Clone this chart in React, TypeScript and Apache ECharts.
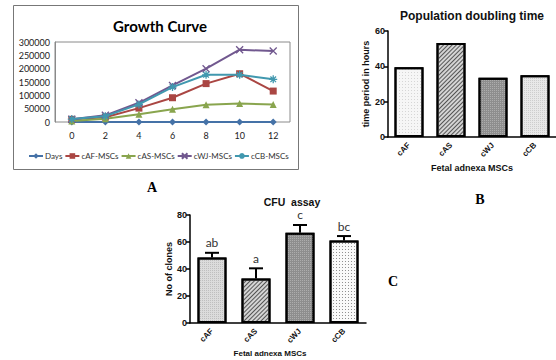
import React, { useEffect, useRef } from "react";
import * as echarts from "echarts";

// ---- Panel A: Growth curve ----
const growthDays = ["0", "2", "4", "6", "8", "10", "12"];
const daysSeries = [0, 2, 4, 6, 8, 10, 12];
const cAF = [10000, 18000, 52000, 91000, 144000, 181000, 116000];
const cAS = [4000, 12500, 29000, 47500, 65000, 69000, 66000];
const cWJ = [10000, 25000, 72000, 137000, 200000, 271000, 266000];
const cCB = [11000, 22000, 66000, 131000, 177000, 177000, 160000];
const growthNames = ["Days", "cAF-MSCs", "cAS-MSCs", "cWJ-MSCs", "cCB-MSCs"];

// ---- Panel B: Population doubling time ----
const pdCategories = ["cAF", "cAS", "cWJ", "cCB"];
const pdValues = [39.5, 53.2, 33.5, 35.0];

// ---- Panel C: CFU assay ----
const cfuCategories = ["cAF", "cAS", "cWJ", "cCB"];
const cfuValues = [48.5, 33, 66.8, 61.2];
const cfuErrors = [3.5, 7.5, 5.8, 3.2];
const cfuLetters = ["ab", "a", "c", "bc"];

const XPATH = "path://M0,0L10,10M10,0L0,10";
const STARPATH = "path://M5,0L5,10M0,5L10,5M1.5,1.5L8.5,8.5M8.5,1.5L1.5,8.5";

type Fill = { bg: string; decal: any };
const fills: Record<string, Fill> = {
  lightDots: { bg: "#f6f6f6", decal: { color: "#8a8a8a", symbol: "rect", symbolSize: 0.6, dashArrayX: [1, 2], dashArrayY: [1, 2] } },
  hatch: { bg: "#d4d4d4", decal: { color: "#555", symbol: "rect", dashArrayX: [1, 0], dashArrayY: [1, 2], rotation: -Math.PI / 4 } },
  dark: { bg: "#8e8e8e", decal: { color: "#e8e8e8", symbol: "rect", symbolSize: 0.7, dashArrayX: [1, 1], dashArrayY: [1, 1] } },
  lightGrid: { bg: "#e8e8e8", decal: { color: "#999", symbol: "rect", symbolSize: 0.7, dashArrayX: [1, 1], dashArrayY: [1, 1] } },
  cfuLight: { bg: "#dcdcdc", decal: { color: "#888", symbol: "rect", symbolSize: 0.7, dashArrayX: [1, 1], dashArrayY: [1, 1] } },
  whiteDots: { bg: "#fafafa", decal: { color: "#777", symbol: "rect", symbolSize: 0.8, dashArrayX: [1, 2], dashArrayY: [1, 2] } },
};

const pdFill = [fills.lightDots, fills.hatch, fills.dark, fills.lightGrid];
const cfuFill = [fills.cfuLight, fills.hatch, fills.dark, fills.whiteDots];

const gpAxisLabel = { fontFamily: "Liberation Sans, Arial", fontWeight: "bold" as const, fontSize: 9, color: "#111" };

export default function App() {
  const ref = useRef<HTMLDivElement>(null);
  useEffect(() => {
    if (!ref.current) return;
    const chart = echarts.init(ref.current, null, { renderer: "svg" });
    const exFont = "Lato, Open Sans, sans-serif";
    const colors = ["#4572A7", "#AA4643", "#89A54E", "#71588F", "#4198AF"];
    const lineData = [daysSeries, cAF, cAS, cWJ, cCB];
    const symbols = ["diamond", "rect", "triangle", XPATH, STARPATH];
    const symbolSizes = [7, 7, 7, 7, 8];

    const lineSeries = growthNames.map((n, i) => ({
      name: n,
      type: "line",
      xAxisIndex: 0,
      yAxisIndex: 0,
      data: lineData[i],
      symbol: symbols[i],
      symbolSize: symbolSizes[i],
      lineStyle: { color: colors[i], width: 2 },
      itemStyle: {
        color: colors[i],
        borderColor: colors[i],
        borderWidth: i >= 3 ? 1.3 : 0,
      },
      z: 3 + i,
    }));

    const option: any = {
      animation: false,
      backgroundColor: "#fff",
      title: [
        { text: "Growth Curve", left: 155, top: 13, textAlign: "center", textStyle: { fontFamily: exFont, fontWeight: "bold", fontSize: 15, color: "#000" } },
        { text: "Population doubling time", left: 467, top: 5, textAlign: "center", textStyle: { fontFamily: "Liberation Sans, Arial", fontWeight: "bold", fontSize: 12, color: "#111" } },
        { text: "CFU  assay", left: 287, top: 191, textAlign: "center", textStyle: { fontFamily: "Liberation Sans, Arial", fontWeight: "bold", fontSize: 10.5, color: "#111" } },
      ],
      legend: {
        data: growthNames,
        left: 28,
        top: 152,
        orient: "horizontal",
        itemWidth: 14,
        itemHeight: 7,
        itemGap: 2,
        textStyle: { fontFamily: exFont, fontSize: 8, color: "#333", padding: [0, 0, 0, -3] },
        padding: 0,
      },
      grid: [
        { left: 55, top: 42, width: 235, height: 80, show: true, borderColor: "#8a8a8a", borderWidth: 1, backgroundColor: "transparent" },
        { left: 388, top: 31, width: 174, height: 106 },
        { left: 190, top: 215, width: 176, height: 108 },
      ],
      xAxis: [
        {
          gridIndex: 0, type: "category", data: growthDays, boundaryGap: true,
          axisLine: { show: false }, axisTick: { show: false },
          axisLabel: { fontFamily: exFont, fontSize: 9, color: "#222", margin: 9 },
        },
        {
          gridIndex: 1, type: "category", data: pdCategories,
          axisLine: { lineStyle: { color: "#000", width: 1.5 } },
          axisTick: { alignWithLabel: true, length: 4, lineStyle: { color: "#000", width: 1.5 } },
          axisLabel: { ...gpAxisLabel, fontSize: 8, rotate: 45, margin: 7 },
          name: "Fetal adnexa MSCs", nameLocation: "middle", nameGap: 26,
          nameTextStyle: { ...gpAxisLabel, fontSize: 9 },
        },
        {
          gridIndex: 2, type: "category", data: cfuCategories,
          axisLine: { lineStyle: { color: "#000", width: 1.5 } },
          axisTick: { alignWithLabel: true, length: 4, lineStyle: { color: "#000", width: 1.5 } },
          axisLabel: { ...gpAxisLabel, fontSize: 8, rotate: 45, margin: 7 },
          name: "Fetal adnexa MSCs", nameLocation: "middle", nameGap: 26,
          nameTextStyle: { ...gpAxisLabel, fontSize: 8, padding: [0, 16, 0, 0] },
        },
      ],
      yAxis: [
        {
          gridIndex: 0, type: "value", min: 0, max: 300000, interval: 50000,
          axisLine: { show: true, lineStyle: { color: "#8a8a8a" } },
          axisTick: { show: false }, splitLine: { show: false },
          axisLabel: { fontFamily: exFont, fontSize: 9, color: "#222", margin: 5, formatter: (v: number) => String(v) },
        },
        {
          gridIndex: 1, type: "value", min: 0, max: 60, interval: 20,
          axisLine: { show: true, lineStyle: { color: "#000", width: 1.5 } },
          axisTick: { show: true, length: 4, lineStyle: { color: "#000", width: 1.5 } },
          splitLine: { show: false },
          axisLabel: { ...gpAxisLabel, margin: 3 },
          name: "time period in hours", nameLocation: "middle", nameGap: 18,
          nameTextStyle: { ...gpAxisLabel, fontSize: 9 },
        },
        {
          gridIndex: 2, type: "value", min: 0, max: 80, interval: 20,
          axisLine: { show: true, lineStyle: { color: "#000", width: 1.5 } },
          axisTick: { show: true, length: 4, lineStyle: { color: "#000", width: 1.5 } },
          splitLine: { show: false },
          axisLabel: { ...gpAxisLabel, margin: 3 },
          name: "No of clones", nameLocation: "middle", nameGap: 16,
          nameTextStyle: { ...gpAxisLabel, fontSize: 9 },
        },
      ],
      series: [
        ...lineSeries,
        {
          type: "bar", xAxisIndex: 1, yAxisIndex: 1, barWidth: 29,
          data: pdValues.map((v, i) => ({ value: v, itemStyle: { color: pdFill[i].bg, decal: pdFill[i].decal } })),
          itemStyle: { borderColor: "#000", borderWidth: 2 },
        },
        {
          type: "bar", xAxisIndex: 2, yAxisIndex: 2, barWidth: 29,
          data: cfuValues.map((v, i) => ({ value: v, itemStyle: { color: cfuFill[i].bg, decal: cfuFill[i].decal } })),
          itemStyle: { borderColor: "#000", borderWidth: 2 },
        },
        {
          type: "custom", xAxisIndex: 2, yAxisIndex: 2, z: 10,
          data: cfuValues.map((v, i) => [i, v, cfuErrors[i]]),
          renderItem: (params: any, api: any) => {
            const idx = api.value(0);
            const v = api.value(1);
            const e = api.value(2);
            const p0 = api.coord([idx, v]);
            const p1 = api.coord([idx, v + e]);
            const style = { stroke: "#000", lineWidth: 2 };
            return {
              type: "group",
              children: [
                { type: "line", shape: { x1: p0[0], y1: p0[1], x2: p1[0], y2: p1[1] }, style },
                { type: "line", shape: { x1: p1[0] - 7, y1: p1[1], x2: p1[0] + 7, y2: p1[1] }, style },
                {
                  type: "text", x: p1[0], y: p1[1] - 4,
                  style: { text: cfuLetters[params.dataIndex], fontFamily: exFont, fontSize: 12, fill: "#333", align: "center", verticalAlign: "bottom" },
                },
              ],
            };
          },
        },
      ],
      graphic: [
        { type: "rect", shape: { x: 13.5, y: 5.5, width: 285, height: 164 }, style: { fill: "none", stroke: "#777", lineWidth: 1 }, z: -1 },
        { type: "text", x: 152, y: 187, style: { text: "A", fontFamily: "Liberation Serif, Times New Roman", fontWeight: "bold", fontSize: 14, fill: "#000", align: "center", verticalAlign: "middle" } },
        { type: "text", x: 480, y: 199, style: { text: "B", fontFamily: "Liberation Serif, Times New Roman", fontWeight: "bold", fontSize: 14, fill: "#000", align: "center", verticalAlign: "middle" } },
        { type: "text", x: 393, y: 281, style: { text: "C", fontFamily: "Liberation Serif, Times New Roman", fontWeight: "bold", fontSize: 14, fill: "#000", align: "center", verticalAlign: "middle" } },
      ],
    };
    chart.setOption(option);
    return () => chart.dispose();
  }, []);
  return <div ref={ref} style={{ position: "fixed", left: 0, top: 0, width: 556, height: 360, background: "#fff" }} />;
}
